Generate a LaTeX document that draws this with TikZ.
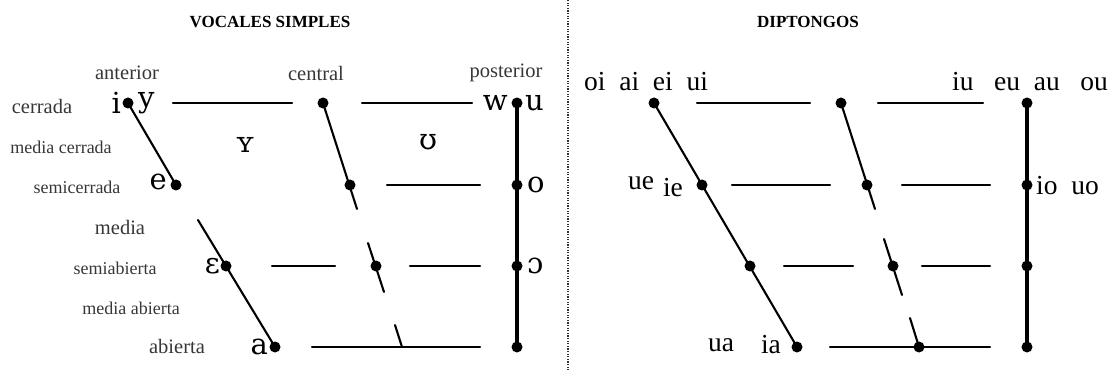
\documentclass[tikz,border=0pt]{standalone}
\usepackage{fontspec}
\setmainfont{Liberation Serif}
\newfontfamily\ipafont{DejaVu Serif}
\definecolor{etiqueta}{RGB}{55,55,55}
\tikzset{
  linea/.style={line width=2.1pt},
  eje/.style={line width=3.6pt},
  fila/.style={text=etiqueta,font=\fontsize{20.5}{21}\selectfont},
  filachica/.style={text=etiqueta,font=\fontsize{18}{18}\selectfont},
  vocal/.style={font=\ipafont\fontsize{29}{29}\selectfont,inner sep=1pt},
  dipt/.style={font=\fontsize{27.5}{28}\selectfont,inner sep=1pt},
  titulo/.style={font=\bfseries\fontsize{17}{17}\selectfont}
}
\begin{document}
\begin{tikzpicture}[x=1pt,y=-1pt,line join=round,line cap=round]
  \useasboundingbox (0,0) rectangle (1108,371);
  % separador
  \draw[line width=1.3pt,black!80,dash pattern=on 1.3pt off 1.3pt,line cap=butt] (568,0)--(568,371);
  % ---------- vocales simples ----------
  \node[titulo] (tsimples) at (270,22) {VOCALES SIMPLES};
  \node[fila] (anterior) at (127,73) {anterior};
  \node[fila] (central) at (316,73) {central};
  \node[fila] (posterior) at (506,73) {posterior};
  \node[fila] (cerrada) at (42,106) {cerrada};
  \node[filachica] (mcerrada) at (61,147) {media cerrada};
  \node[filachica] (scerrada) at (77,187) {semicerrada};
  \node[fila] (media) at (120,227) {media};
  \node[filachica] (sabierta) at (115,268) {semiabierta};
  \node[filachica] (mabierta) at (131,308) {media abierta};
  \node[fila] (abierta) at (177,346) {abierta};
  \coordinate (I) at (128,103);
  \coordinate (E) at (176,185);
  \coordinate (Ft) at (198,220);
  \coordinate (Eps) at (226,266);
  \coordinate (A) at (275,347);
  \coordinate (C1) at (323,103);
  \coordinate (C2) at (350,185);
  \coordinate (C3) at (376,266);
  \coordinate (Ca) at (357,209);
  \coordinate (Cb) at (368,243);
  \coordinate (Cc) at (384,292);
  \coordinate (Cd) at (395,325);
  \coordinate (C4) at (402,347);
  \coordinate (U) at (517,103);
  \coordinate (O) at (517,185);
  \coordinate (OO) at (517,266);
  \coordinate (P4) at (517,347);
  \draw[linea] (I)--(E) (Ft)--(A);
  \draw[linea] (C1)--(Ca) (Cb)--(Cc) (Cd)--(C4);
  \draw[linea] (173,103)--(292,103) (362,103)--(472,103);
  \draw[linea] (387,185)--(480,185);
  \draw[linea] (272,266)--(335,266) (410,266)--(480,266);
  \draw[linea] (312,347)--(480,347);
  \draw[eje] (U)--(P4);
  \fill (I) circle (5.5pt) node[vocal,left=6pt] {i} node[vocal,right=9pt] {y};
  \fill (E) circle (5.5pt) node[vocal,left=8pt,yshift=3pt] {e};
  \fill (Eps) circle (5.5pt) node[vocal,left=5pt] {ɛ};
  \fill (A) circle (5.5pt) node[vocal,left=6pt] {a};
  \fill (C1) circle (5.5pt);
  \fill (C2) circle (5.5pt);
  \fill (C3) circle (5.5pt);
  \fill (U) circle (5.5pt) node[vocal,left=8pt] {w} node[vocal,right=7pt] {u};
  \fill (O) circle (5.5pt) node[vocal,right=9pt] {o};
  \fill (OO) circle (5.5pt) node[vocal,right=9pt] {ɔ};
  \fill (P4) circle (5.5pt);
  \node[vocal] (Yc) at (245,145) {ʏ};
  \node[vocal] (Uc) at (428,142) {ʊ};
  % ---------- diptongos ----------
  \node[titulo] (tdipt) at (808,22) {DIPTONGOS};
  \coordinate (F1) at (654,103);
  \coordinate (F2) at (702,185);
  \coordinate (F3) at (750,266);
  \coordinate (F4) at (797,347);
  \coordinate (K1) at (841,103);
  \coordinate (K2) at (867,185);
  \coordinate (K3) at (893,266);
  \coordinate (Ka) at (875,209);
  \coordinate (Kb) at (884,239);
  \coordinate (Kc) at (902,295);
  \coordinate (Kd) at (910,318);
  \coordinate (K4) at (919,347);
  \coordinate (R1) at (1027,103);
  \coordinate (R2) at (1027,185);
  \coordinate (R3) at (1027,266);
  \coordinate (R4) at (1027,347);
  \draw[linea] (F1)--(F4);
  \draw[linea] (K1)--(Ka) (Kb)--(Kc) (Kd)--(K4);
  \draw[linea] (697,103)--(810,103) (878,103)--(983,103);
  \draw[linea] (732,185)--(830,185) (902,185)--(990,185);
  \draw[linea] (784,266)--(853,266) (922,266)--(990,266);
  \draw[linea] (830,347)--(990,347);
  \draw[eje] (R1)--(R4);
  \foreach \p in {F1,F2,F3,F4,K1,K2,K3,K4,R1,R2,R3,R4}
    \fill (\p) circle (5.5pt);
  \node[dipt] (dsup) at (646,82) {oi\ \ ai\ \ ei\ \ ui};
  \node[dipt] (dpost) at (1030,82) {iu\ \ \ eu\ \ au\ \ \ ou};
  \node[dipt] (ue) at (641,183) {ue};
  \node[dipt] (ie) at (673,188) {ie};
  \node[dipt,anchor=west] (iouo) at (1035,186) {io\ \ uo};
  \node[dipt] (ua) at (721,345) {ua};
  \node[dipt] (ia) at (771,345) {ia};
\end{tikzpicture}
\end{document}
